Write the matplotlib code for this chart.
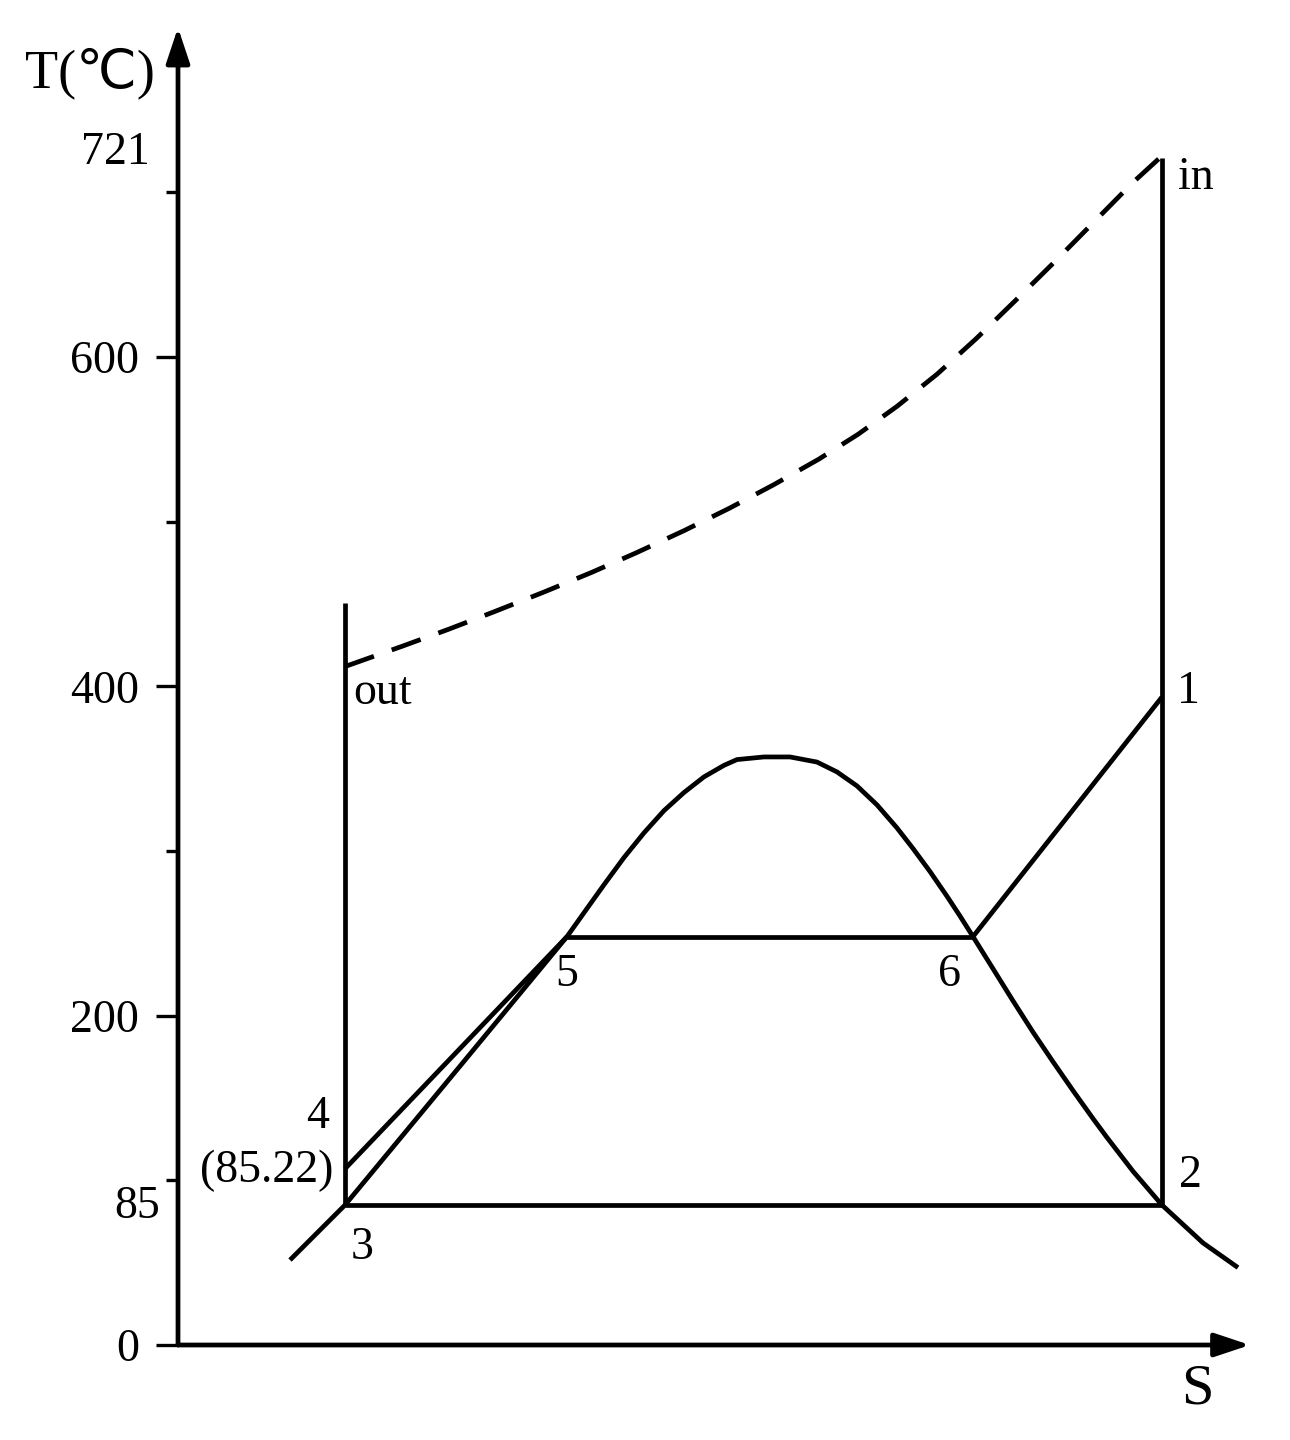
import matplotlib.pyplot as plt

plt.rcParams['font.family'] = ['Liberation Serif', 'DejaVu Sans']

# 포화곡선 (S, T)
dome_s = [1.12, 1.67, 2.78, 3.89, 4.06, 4.26, 4.46, 4.66, 4.86, 5.06, 5.26, 5.46,
          5.59, 5.86, 6.12, 6.39, 6.59, 6.79, 6.99, 7.19, 7.35, 7.52, 7.69, 7.82,
          7.95, 8.15, 8.35, 8.55, 8.75, 8.95, 9.15, 9.29, 9.55, 9.84, 10.25, 10.60]
dome_t = [51.6, 85.0, 166.4, 248.0, 262.5, 279.5, 296.0, 311.0, 324.5, 335.5, 345.0, 352.0,
          355.5, 357.1, 357.1, 354.0, 348.0, 339.5, 328.0, 314.0, 301.5, 287.5, 272.5, 260.5,
          248.0, 228.5, 209.0, 190.0, 172.0, 154.5, 137.5, 126.0, 105.5, 85.0, 62.0, 47.0]

# 배기가스 온도선 (점선)
gas_s = [1.67, 2.25, 2.70, 3.15, 3.65, 4.13, 4.58, 5.06, 5.51, 5.96, 6.41, 6.80,
         7.19, 7.59, 7.98, 8.37, 8.77, 9.16, 9.55, 9.82]
gas_t = [412, 424.5, 434.5, 445, 457, 469, 481, 494.5, 508, 522.5, 538, 553,
         570, 589.5, 611, 634, 658, 682, 706, 721]

# 사이클 상태점
s_out, s_in = 1.67, 9.84
t3, t4, t5, t1 = 85, 107, 248, 393.5
s5, s6 = 3.89, 7.95
t_out_top, t_in_top = 450.6, 721

yticks_major = [0, 200, 400, 600]
yticks_minor = [100, 300, 500, 700]

fig = plt.figure(figsize=(12.9, 14.4), dpi=100)
ax = fig.add_axes([0.13798, 0.065972, 0.83721, 0.91486])
ax.set_xlim(0, 10.8)
ax.set_ylim(0, 800)
for sp in ax.spines.values():
    sp.set_visible(False)

lw = 3.4
kw = dict(color='k', lw=lw, solid_capstyle='butt', solid_joinstyle='round')

ax.plot(dome_s, dome_t, **kw)
ax.plot(gas_s, gas_t, color='k', lw=lw, ls=(0, (6.5, 4)))

ax.plot([s_out, s_out], [t3, t_out_top], **kw)
ax.plot([s_in, s_in], [t3, t_in_top], **kw)
ax.plot([s_out, s_in], [t3, t3], **kw)
ax.plot([s_out, s5], [t4, t5], **kw)
ax.plot([s5, s6], [t5, t5], **kw)
ax.plot([s6, s_in], [t5, t1], **kw)

# 축 화살표
arrow = dict(arrowstyle='-|>,head_length=0.54,head_width=0.18', lw=lw, color='k',
             mutation_scale=40, shrinkA=0, shrinkB=0)
ax.annotate('', xy=(0, 800), xytext=(0, 0), arrowprops=arrow, annotation_clip=False)
ax.annotate('', xy=(10.72, 0), xytext=(0, 0), arrowprops=arrow, annotation_clip=False)

ax.set_xticks([])
ax.set_yticks(yticks_major)
ax.set_yticklabels([str(v) for v in yticks_major])
ax.set_yticks(yticks_minor, minor=True)
ax.tick_params(axis='y', which='major', direction='out', length=16, width=2.4,
               pad=12, labelsize=33)
ax.tick_params(axis='y', which='minor', direction='out', length=9, width=2.4)

fs = 33
ax.text(-0.28, 724, '721', ha='right', va='center', fontsize=fs, clip_on=False)
ax.text(-0.18, 84, '85', ha='right', va='center', fontsize=fs, clip_on=False)
ax.text(-0.88, 772, 'T(℃)', ha='center', va='center', fontsize=39, clip_on=False)
ax.text(10.19, -27, 'S', ha='center', va='center', fontsize=42, clip_on=False)

ax.text(1.75, 396, 'out', ha='left', va='center', fontsize=fs)
ax.text(10.0, 709, 'in', ha='left', va='center', fontsize=fs)
ax.text(10.10, 396.5, '1', ha='center', va='center', fontsize=fs)
ax.text(10.12, 103, '2', ha='center', va='center', fontsize=fs)
ax.text(1.84, 59, '3', ha='center', va='center', fontsize=fs)
ax.text(1.40, 138.5, '4', ha='center', va='center', fontsize=fs)
ax.text(1.55, 106, '(85.22)', ha='right', va='center', fontsize=fs)
ax.text(3.89, 224.7, '5', ha='center', va='center', fontsize=fs)
ax.text(7.72, 224.7, '6', ha='center', va='center', fontsize=fs)

fig.savefig('out.png', dpi=100)
